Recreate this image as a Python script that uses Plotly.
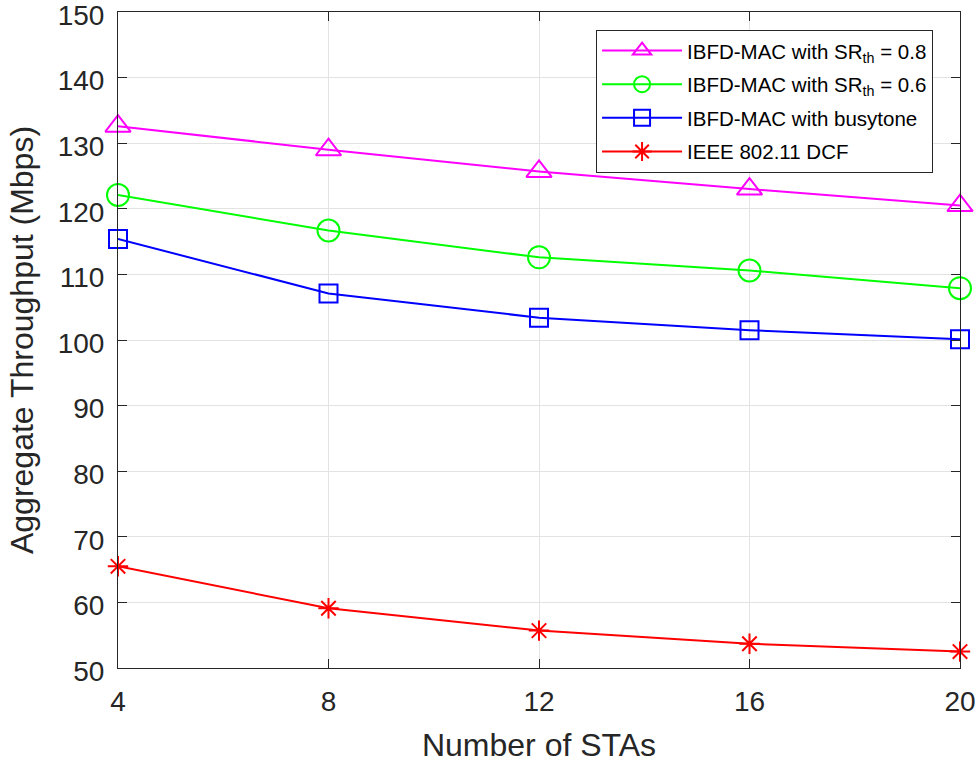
import plotly.graph_objects as go

# Number of stations on the x axis
stas = [4, 8, 12, 16, 20]

# Aggregate throughput (Mbps) for each scheme
sr08 = [132.6, 129.0, 125.7, 123.0, 120.5]
sr06 = [122.1, 116.7, 112.6, 110.6, 107.9]
busytone = [115.4, 107.1, 103.4, 101.5, 100.1]
dcf = [65.5, 59.1, 55.7, 53.7, 52.5]

y_ticks = [50, 60, 70, 80, 90, 100, 110, 120, 130, 140, 150]

names = [
    "IBFD-MAC with SR<sub>th</sub> = 0.8",
    "IBFD-MAC with SR<sub>th</sub> = 0.6",
    "IBFD-MAC with busytone",
    "IEEE 802.11 DCF",
]
series = [sr08, sr06, busytone, dcf]
colors = ["#FF00FF", "#00FF00", "#0000FF", "#FF0000"]
symbols = ["triangle-up-open", "circle-open", "square-open", "asterisk-open"]
sizes = [22, 22, 18, 17]

FONT = "Liberation Sans, Arial, sans-serif"
INK = "#262626"

fig = go.Figure()
for i, (name, ys, c, sym, sz) in enumerate(zip(names, series, colors, symbols, sizes)):
    fig.add_trace(go.Scatter(
        x=stas, y=ys, name=name, mode="lines+markers",
        legendgroup=f"g{i}",
        line=dict(color=c, width=2),
        marker=dict(symbol=sym, size=sz, color=c, line=dict(color=c, width=2)),
        cliponaxis=False,
    ))

axis_common = dict(
    showline=True, linecolor=INK, linewidth=1, mirror="ticks",
    ticks="inside", ticklen=9, tickcolor=INK, tickwidth=1,
    showgrid=True, gridcolor="#E3E3E3", gridwidth=1, zeroline=False,
    tickfont=dict(family=FONT, size=28, color=INK),
    ticklabeloverflow="allow", automargin=False,
)

fig.update_xaxes(
    range=[4, 20], tickvals=stas, ticklabelstandoff=8,
    title=dict(text="Number of STAs", standoff=21,
               font=dict(family=FONT, size=32, color=INK)),
    **axis_common,
)
fig.update_yaxes(
    range=[50, 150], tickvals=y_ticks, ticklabelstandoff=7, ticklabelshift=3,
    title=dict(text="Aggregate Throughput (Mbps)", standoff=14,
               font=dict(family=FONT, size=32, color=INK)),
    **axis_common,
)

fig.update_layout(
    width=979, height=763,
    margin=dict(l=118, r=19, t=12, b=95),
    plot_bgcolor="white", paper_bgcolor="white",
    legend=dict(
        x=0.968, y=0.973, xanchor="right", yanchor="top",
        bgcolor="white", bordercolor=INK, borderwidth=1,
        font=dict(family=FONT, size=20.5, color="black"),
        itemwidth=80, tracegroupgap=4,
    ),
)

fig.write_html("out.html")
